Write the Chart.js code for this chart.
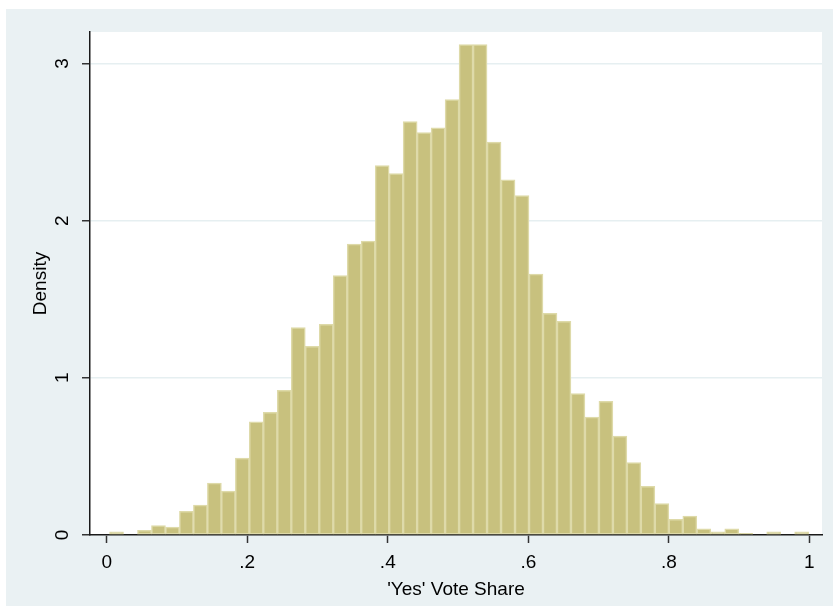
<!DOCTYPE html>
<html>
<head>
<meta charset="utf-8">
<script src="https://cdn.jsdelivr.net/npm/chart.js@4.4.0/dist/chart.umd.min.js"></script>
<style>
  body { margin: 0; background: #fff; }
  canvas { display: block; }
</style>
</head>
<body>
<canvas id="histChart" width="833" height="611"></canvas>
<script>
// Histogram bins: start of the first bin and the bin width
const binStart = 0.004;
const binWidth = 0.0199;

// Density for each of the 50 bins
const density = [
  0.02, 0, 0.03, 0.06, 0.05, 0.15, 0.19, 0.33, 0.28, 0.49,
  0.72, 0.78, 0.92, 1.32, 1.20, 1.34, 1.65, 1.85, 1.87, 2.35,
  2.30, 2.63, 2.56, 2.59, 2.77, 3.12, 3.12, 2.50, 2.26, 2.16,
  1.66, 1.41, 1.36, 0.90, 0.75, 0.85, 0.63, 0.46, 0.31, 0.20,
  0.10, 0.12, 0.04, 0.02, 0.04, 0.01, 0, 0.02, 0, 0.02
];

// Axis ticks
const xTicks = [0, 0.2, 0.4, 0.6, 0.8, 1];
const xTickLabels = ['0', '.2', '.4', '.6', '.8', '1'];
const yTicks = [0, 1, 2, 3];

// bar centres along the x axis
var points = density.map(function (d, i) {
    return { x: binStart + binWidth * (i + 0.5), y: d };
});

Chart.defaults.font.family = "'Liberation Sans', Arial, sans-serif";
Chart.defaults.color = '#000';

// grey page background with a white plot region
var backdrop = {
    id: 'backdrop',
    beforeDraw: function (chart) {
        var ctx = chart.ctx;
        var a = chart.chartArea;
        ctx.save();
        ctx.fillStyle = '#EAF1F3';
        ctx.fillRect(6, 9, chart.width - 6, 597);
        ctx.fillStyle = '#ffffff';
        ctx.fillRect(a.left, a.top, a.right - a.left, a.bottom - a.top);
        ctx.restore();
    }
};

var config = {
    type: 'bar',
    data: {
        datasets: [{
            label: 'Density',
            data: points,
            backgroundColor: '#C8C17E',
            borderColor: '#DEDAA9',
            borderWidth: 1.5,
            borderSkipped: false,
            barPercentage: 1.0,
            categoryPercentage: 1.0
        }]
    },
    options: {
        responsive: false,
        animation: false,
        layout: {
            padding: { left: 6, top: 32, right: 11, bottom: 6 }
        },
        scales: {
            x: {
                type: 'linear',
                offset: false,
                min: -0.0238,
                max: 1.018,
                afterBuildTicks: function (scale) {
                    scale.ticks = xTicks.map(function (v) { return { value: v }; });
                },
                afterFit: function (scale) {
                    scale.height = 70;
                },
                ticks: {
                    padding: 8,
                    font: { size: 19 },
                    callback: function (value) {
                        return xTickLabels[xTicks.indexOf(value)];
                    }
                },
                grid: {
                    offset: false,
                    drawOnChartArea: false,
                    tickLength: 8,
                    tickColor: '#333',
                    tickWidth: 1.5
                },
                border: { color: '#1a1a1a', width: 1.5 },
                title: {
                    display: true,
                    text: "'Yes' Vote Share",
                    font: { size: 19 },
                    padding: { top: 0, bottom: 4 }
                }
            },
            y: {
                min: 0,
                max: 3.2,
                afterBuildTicks: function (scale) {
                    scale.ticks = yTicks.map(function (v) { return { value: v }; });
                },
                afterFit: function (scale) {
                    scale.width = 84;
                },
                ticks: {
                    minRotation: 90,
                    crossAlign: 'center',
                    padding: 14,
                    font: { size: 19 }
                },
                grid: {
                    color: '#E6EFF1',
                    lineWidth: 1.5,
                    tickLength: 8,
                    tickColor: '#333',
                    tickWidth: 1.5
                },
                border: { color: '#1a1a1a', width: 1.5 },
                title: {
                    display: true,
                    text: 'Density',
                    font: { size: 19 },
                    padding: { top: 23, bottom: 0 }
                }
            }
        },
        plugins: {
            legend: { display: false },
            tooltip: { enabled: false }
        }
    },
    plugins: [backdrop]
};

var histChart = new Chart(document.getElementById('histChart'), config);
</script>
</body>
</html>
